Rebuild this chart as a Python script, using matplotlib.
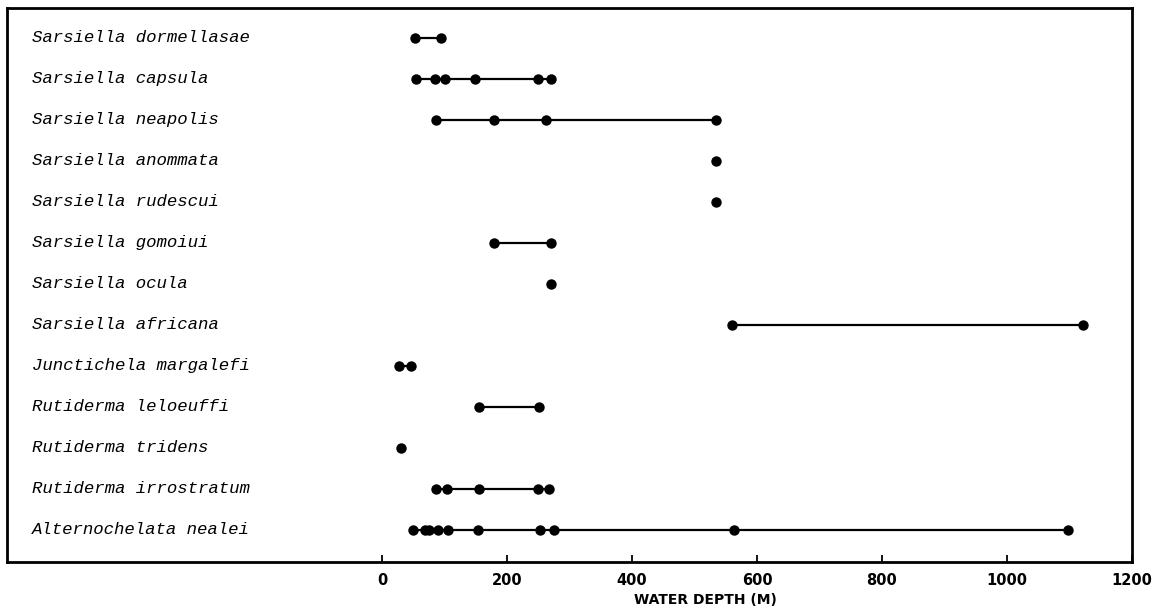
import matplotlib.pyplot as plt

# Species, top to bottom
species = [
    'Sarsiella dormellasae',
    'Sarsiella capsula',
    'Sarsiella neapolis',
    'Sarsiella anommata',
    'Sarsiella rudescui',
    'Sarsiella gomoiui',
    'Sarsiella ocula',
    'Sarsiella africana',
    'Junctichela margalefi',
    'Rutiderma leloeuffi',
    'Rutiderma tridens',
    'Rutiderma irrostratum',
    'Alternochelata nealei',
]

# Recorded water depths (m) for each species
depths = [
    [53, 94],
    [54, 85, 101, 149, 249, 270],
    [86, 179, 263, 535],
    [535],
    [535],
    [179, 271],
    [271],
    [560, 1122],
    [28, 47],
    [156, 252],
    [31],
    [86, 104, 156, 249, 267],
    [50, 69, 76, 89, 105, 153, 253, 275, 563, 1098],
]

x_ticks = [0, 200, 400, 600, 800, 1000, 1200]

fig = plt.figure(figsize=(11.58, 6.16), dpi=100)
ax = fig.add_axes([0.006, 0.0877, 0.9715, 0.8993])

for i, (name, d) in enumerate(zip(species, depths)):
    ax.plot(d, [i] * len(d), '-o', color='black', lw=1.6,
            markersize=7.5, markeredgewidth=0)
    ax.text(-560, i, name, family='Liberation Mono', style='italic',
            fontsize=12.5, va='center', ha='left')

ax.set_xlim(-600, 1200)
ax.set_ylim(12.78, -0.73)
ax.set_yticks([])
ax.set_xticks(x_ticks)
ax.set_xticklabels([str(t) for t in x_ticks], fontweight='bold', fontsize=10.5)
ax.tick_params(axis='x', direction='in', length=5, width=1.3, pad=8)
for s in ax.spines.values():
    s.set_linewidth(2)

fig.text(634 / 1158, 1 - 600 / 616, 'WATER DEPTH (M)', fontweight='bold',
         fontsize=10, ha='left', va='center')

fig.savefig('out.png', dpi=100)
